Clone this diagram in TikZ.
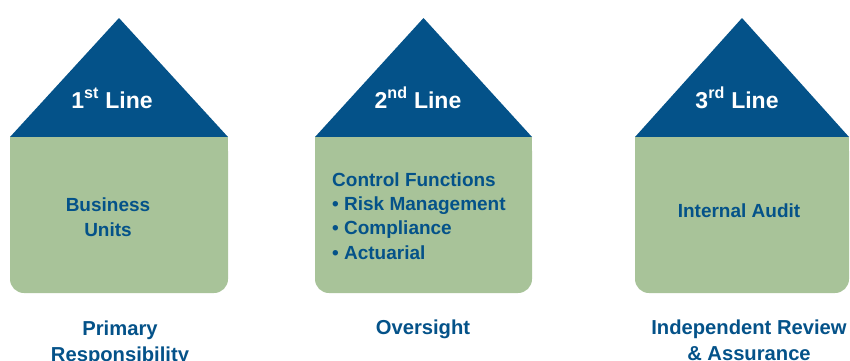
\documentclass[tikz,border=0pt]{standalone}
\usepackage{fontspec}
\usepackage{tikz}
\usepackage{xcolor}
\setsansfont{Liberation Sans}
\definecolor{lodblue}{RGB}{4, 82, 137}
\definecolor{lodgreen}{RGB}{168, 195, 153}
\tikzset{
    roof/.style={fill=lodblue},
    body/.style={fill=lodgreen},
    rooflabel/.style={anchor=base, text=white, inner sep=0pt, font=\sffamily\bfseries\fontsize{23}{26}\selectfont},
    bodylabel/.style={anchor=base, text=lodblue, inner sep=0pt, align=center, font=\sffamily\bfseries\fontsize{19}{24.3}\selectfont},
    footlabel/.style={anchor=base, text=lodblue, inner sep=0pt, align=center, font=\sffamily\bfseries\fontsize{20.2}{26}\selectfont}
}

\begin{document}
\begin{tikzpicture}[x=1pt, y=-1pt]
    \useasboundingbox (0,0) rectangle (850,360);
    % the three houses: roof on top of a box with rounded bottom corners
    \foreach \l/\r in {10/228, 315/532, 635/849} {
        \fill[roof] (\l,137) -- ({(\l+\r)/2},18) -- (\r,137) -- cycle;
        \fill[body, rounded corners=14pt] (\l,137) rectangle (\r,293);
        \fill[body] (\l,137) rectangle (\r,210);
    }
    % roof labels
    \node[rooflabel] (first) at (112,108) {1\textsuperscript{st} Line};
    \node[rooflabel] (second) at (418,108) {2\textsuperscript{nd} Line};
    \node[rooflabel] (third) at (737,108) {3\textsuperscript{rd} Line};
    % what each line holds (base sits on the last line)
    \node[bodylabel] (units) at (108,236) {Business\\Units};
    \node[bodylabel, align=left, anchor=base west] (control) at (332,259)
        {Control Functions\\\textbullet\ Risk Management\\\textbullet\ Compliance\\\textbullet\ Actuarial};
    \node[bodylabel] (audit) at (739,217) {Internal Audit};
    % roles underneath
    \node[footlabel] (primary) at (120,361) {Primary\\Responsibility};
    \node[footlabel] (oversight) at (423,334) {Oversight};
    \node[footlabel] (review) at (749,360) {Independent Review\\\& Assurance};
\end{tikzpicture}
\end{document}
